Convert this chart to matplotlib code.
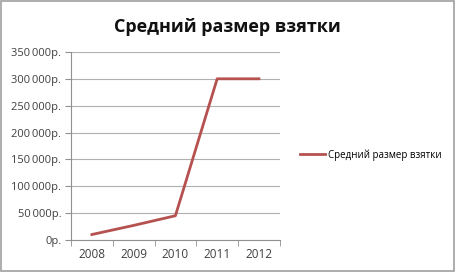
import matplotlib
matplotlib.use('Agg')
import matplotlib.pyplot as plt
import numpy as np

# chart data
years = ['2008', '2009', '2010', '2011', '2012']
avg_bribe = [10000, 27000, 45000, 300000, 300000]
y_ticks = [0, 50000, 100000, 150000, 200000, 250000, 300000, 350000]

plt.rcParams['font.family'] = ['Open Sans', 'DejaVu Sans']

def rub(v):
    s = f'{int(v):,}'.replace(',', '\u2009')
    return s + 'р.'

fig = plt.figure(figsize=(4.55, 2.72), dpi=100)
fig.patch.set_facecolor('white')
# outer gray frame
fig.add_artist(plt.Rectangle((0.003, 0.004), 0.994, 0.992, transform=fig.transFigure,
                             fill=False, edgecolor='#a0a0a0', linewidth=1.2))

ax = fig.add_axes([0.156, 0.118, 0.459, 0.691])
x = np.arange(len(years))
ax.plot(x, avg_bribe, color='#b5514f', linewidth=2, label='Средний размер взятки')

ax.set_xlim(-0.5, len(years) - 0.5)
ax.set_ylim(0, 350000)
ax.set_yticks(y_ticks)
ax.set_yticklabels([rub(v) for v in y_ticks], fontsize=8, color='#404040')
ax.set_xticks(x)
ax.set_xticklabels(years, fontsize=8.5, color='#404040')
ax.set_xticks(np.arange(-0.5, len(years)), minor=True)
ax.tick_params(axis='x', which='major', length=0, pad=6)
ax.tick_params(axis='x', which='minor', length=4, color='#909090')
ax.tick_params(axis='y', length=4, color='#909090', pad=3)

ax.grid(axis='y', color='#b0b0b0', linewidth=0.8)
ax.set_axisbelow(True)
for side in ['top', 'right']:
    ax.spines[side].set_visible(False)
for side in ['left', 'bottom']:
    ax.spines[side].set_color('#909090')

fig.text(0.5, 0.9, 'Средний размер взятки', ha='center', va='center',
         fontsize=13, fontweight='bold', color='#111111')

fig.legend(loc='center left', bbox_to_anchor=(0.64, 0.43), frameon=False,
           fontsize=7, handlelength=2.6, handletextpad=0.3)

fig.savefig('out.png', dpi=100)
